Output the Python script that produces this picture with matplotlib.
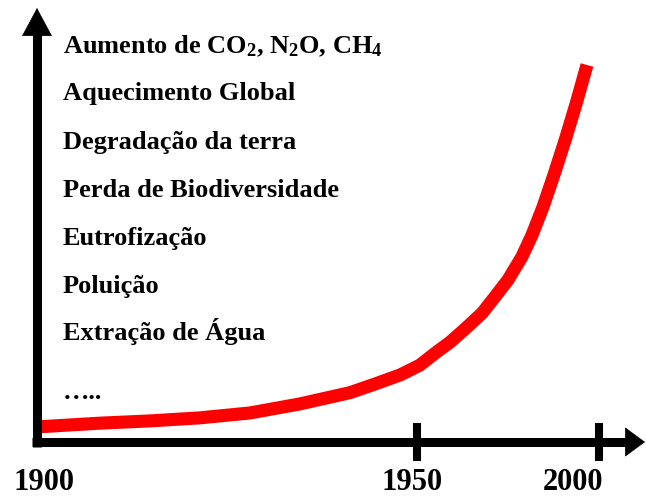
import numpy as np
import matplotlib
matplotlib.use("Agg")
import matplotlib.pyplot as plt

# data (schematic "great acceleration" curve)
anos = [1900, 1908.3, 1914.9, 1921.4, 1928.0, 1934.6, 1941.2, 1944.5,
        1947.8, 1950.8, 1954.9, 1959.1, 1963.2, 1967.9, 1971.4, 1975.0,
        1978.8, 1981.6, 1984.6, 1987.6, 1990.7, 1993.7, 1996.7]
impacto = [4.0, 5.0, 5.6, 6.4, 7.7, 10.1, 13.1, 15.4,
           17.8, 20.4, 23.5, 26.5, 30.0, 34.2, 38.5, 43.0,
           49.1, 54.9, 62.3, 70.8, 80.1, 89.7, 100.0]
anos_ticks = [1900, 1950, 2000]
itens = [
    "Aumento de CO$_2$, N$_2$O, CH$_4$",
    "Aquecimento Global",
    "Degradação da terra",
    "Perda de Biodiversidade",
    "Eutrofização",
    "Poluição",
    "Extração de Água",
    "…..",
]

plt.rcParams["font.family"] = ["Liberation Serif", "DejaVu Serif"]
plt.rcParams["font.weight"] = "bold"
plt.rcParams["mathtext.fontset"] = "custom"
plt.rcParams["mathtext.rm"] = "Liberation Serif:bold"
plt.rcParams["mathtext.it"] = "Liberation Serif:bold"
plt.rcParams["mathtext.bf"] = "Liberation Serif:bold"

W, H = 646, 497

# time axis is drawn unevenly (1900-1950 wide, 1950-2000 narrow)
def fwd(t):
    t = np.asarray(t, dtype=float)
    return np.where(t < 1950, (t - 1950) * 7.6, (t - 1950) * 3.64)

def inv(p):
    p = np.asarray(p, dtype=float)
    return np.where(p < 0, p / 7.6 + 1950, p / 3.64 + 1950)

def px_x(p):
    return float(inv(p - 417))

def px_y(p):
    return (442 - p) / 3.77

fig = plt.figure(figsize=(W / 100, H / 100), dpi=100)
ax = fig.add_axes([0, 0, 1, 1])
ax.set_xscale("function", functions=(fwd, inv))
ax.set_xlim(px_x(0), px_x(W))
ax.set_ylim(px_y(H), px_y(0))
ax.axis("off")

# red curve
ax.plot(anos, impacto, color="#ff0000", lw=9.4, solid_capstyle="butt",
        solid_joinstyle="round", zorder=2)

# axis shafts
ax.plot([px_x(37), px_x(37)], [px_y(447), px_y(30)], color="black", lw=6.5,
        solid_capstyle="butt", zorder=3)
ax.plot([px_x(32), px_x(630)], [0, 0], color="black", lw=6.5,
        solid_capstyle="butt", zorder=3)

# arrow heads
ax.annotate("", xy=(px_x(37), px_y(8)), xytext=(px_x(37), px_y(60)),
            arrowprops=dict(arrowstyle="-|>,head_length=19.4,head_width=10.4",
                            lw=0.5, color="black", mutation_scale=1,
                            shrinkA=0, shrinkB=0), zorder=4)
ax.annotate("", xy=(px_x(645), 0), xytext=(px_x(600), 0),
            arrowprops=dict(arrowstyle="-|>,head_length=13.7,head_width=10.1",
                            lw=0.5, color="black", mutation_scale=1,
                            shrinkA=0, shrinkB=0), zorder=4)

# tick marks at 1950 and 2000
ax.vlines(anos_ticks[1:], -5, 5, colors="black", lw=5.8, zorder=3)

# year labels
offs = [7, -5, -26]
for a, dx in zip(anos_ticks, offs):
    ax.annotate(str(a), (a, 0), xytext=(dx * 0.72, -41 * 0.72),
                textcoords="offset points", ha="center", va="center",
                fontsize=22, fontweight="bold")

# list of impacts
baselines = [53, 100, 149, 197, 245, 293, 340, 399]
for txt, yb in zip(itens, baselines):
    fig.text(63 / W, 1 - yb / H, txt, fontsize=19, fontweight="bold",
             ha="left", va="baseline")

fig.savefig("out.png", dpi=100)
